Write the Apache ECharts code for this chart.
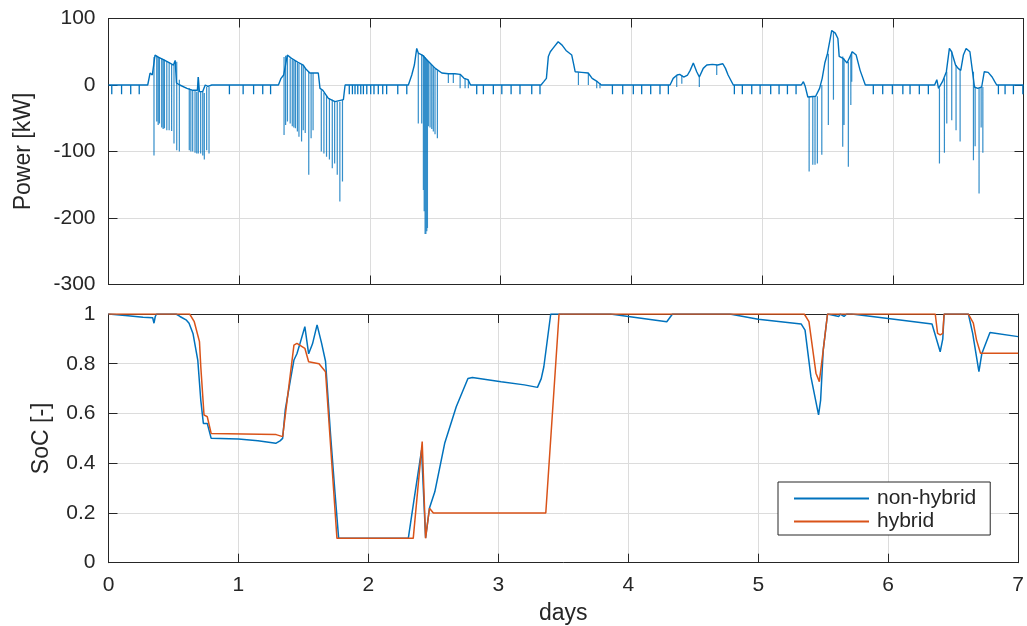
<!DOCTYPE html>
<html>
<head>
<meta charset="utf-8">
<script src="https://cdn.jsdelivr.net/npm/echarts@6/dist/echarts.min.js"></script>
<style>
  html, body { margin: 0; padding: 0; background: #ffffff; }
  #chart { width: 1027px; height: 626px; }
</style>
</head>
<body>
<div id="chart"></div>
<script>
// Battery power over one week: [day, kW] (positive = charging)
const powerTrace = [
  [0, 0], [0.30, 0], [0.318, 18], [0.335, 15], [0.356, 45], [0.38, 42], [0.42, 38], [0.46, 34],
  [0.497, 30], [0.51, 37], [0.52, 3], [0.545, 0], [0.60, -5], [0.645, -8], [0.68, -8], [0.687, 12],
  [0.695, -10], [0.72, -10], [0.74, 0], [0.76, -2], [0.79, 0],
  [1.30, 0], [1.32, 10], [1.34, 15], [1.368, 45], [1.40, 40], [1.45, 34], [1.49, 30], [1.51, 24],
  [1.54, 18], [1.605, 18], [1.618, -5], [1.64, -8], [1.682, -20], [1.733, -25], [1.797, -22], [1.81, 0],
  [2.294, 0], [2.32, 15], [2.34, 30], [2.358, 55], [2.37, 48], [2.40, 45], [2.45, 35], [2.50, 25],
  [2.55, 18], [2.60, 17], [2.65, 17], [2.69, 16], [2.72, 10], [2.75, 8], [2.77, 0],
  [3.309, 0], [3.33, 5], [3.35, 10], [3.365, 43], [3.38, 50], [3.40, 55], [3.44, 65], [3.47, 60],
  [3.50, 52], [3.544, 45], [3.56, 30], [3.57, 20], [3.62, 19], [3.67, 18], [3.70, 10], [3.74, 5], [3.77, 0],
  [4.296, 0], [4.32, 10], [4.35, 15], [4.37, 16], [4.40, 12], [4.43, 15], [4.45, 22], [4.474, 33],
  [4.50, 20], [4.52, 12], [4.55, 25], [4.577, 30], [4.62, 31], [4.66, 30], [4.70, 32], [4.72, 25],
  [4.74, 15], [4.78, 0],
  [5.30, 0], [5.316, 5], [5.33, -2], [5.35, -18], [5.41, -17], [5.44, -5], [5.46, 10], [5.48, 33],
  [5.50, 47], [5.533, 82], [5.56, 78], [5.58, 70], [5.59, 43], [5.62, 40], [5.65, 33], [5.69, 50],
  [5.72, 45], [5.75, 22], [5.79, 0],
  [6.32, 0], [6.337, 8], [6.35, -5], [6.38, 5], [6.41, 20], [6.433, 55], [6.45, 50], [6.48, 30],
  [6.50, 25], [6.52, 22], [6.54, 45], [6.561, 55], [6.59, 50], [6.61, 20], [6.625, -3], [6.65, -5],
  [6.68, -3], [6.70, 20], [6.73, 19], [6.76, 12], [6.78, 5], [6.795, 0], [7, 0]
];

// Short auxiliary-load pulses while parked: day of each pulse
const idlePulses = [
  0.025, 0.10, 0.17, 0.235,
  0.925, 1.03, 1.11, 1.18, 1.24,
  1.842, 1.866, 1.886, 1.907, 1.930, 1.950, 1.976, 2.006, 2.031, 2.064, 2.098, 2.128, 2.213, 2.282,
  2.817, 2.868, 2.944, 3.009, 3.080, 3.148, 3.238, 3.301,
  3.855, 3.934, 4.015, 4.079, 4.148, 4.219, 4.283,
  4.788, 4.849, 4.921, 4.985, 5.066, 5.130, 5.194, 5.260,
  5.851, 5.923, 5.997, 6.077, 6.132, 6.203, 6.272,
  6.808, 6.859, 6.923, 6.995
];
const idlePulseDepth = -14;

// Fast transients while driving: [day, from kW, to kW]
const powerSpikes = [
  [0.348, 42, -106], [0.369, 44, -55], [0.380, 43, -60], [0.390, 42, -58], [0.407, 40, -64],
  [0.418, 39, -66], [0.428, 38, -65], [0.446, 36, -68], [0.464, 34, -68], [0.483, 31, -69],
  [0.501, 30, -88], [0.522, 35, -98], [0.542, 8, -100], [0.618, -5, -98], [0.630, -6, -100],
  [0.644, -8, -100], [0.662, -8, -102], [0.675, -10, -103], [0.687, 12, -103], [0.705, -10, -103],
  [0.721, -10, -106], [0.733, -12, -112], [0.751, -3, -98], [0.769, -3, -103],
  [1.343, 42, -75], [1.355, 44, -60], [1.369, 44, -55], [1.390, 40, -58], [1.406, 38, -62],
  [1.418, 37, -64], [1.430, 36, -65], [1.445, 33, -70], [1.457, 32, -78], [1.477, 31, -85],
  [1.490, 30, -68], [1.505, 26, -72], [1.532, 20, -135], [1.550, 18, -80], [1.565, 18, -68],
  [1.628, -8, -100], [1.648, -12, -103], [1.668, -16, -108], [1.690, -20, -112], [1.712, -22, -125],
  [1.730, -24, -118], [1.750, -25, -135], [1.770, -25, -175], [1.790, -22, -145],
  [2.370, 48, -58], [2.396, 46, -58], [2.409, 45, -158], [2.415, 44, -190], [2.422, 42, -224],
  [2.428, 40, -224], [2.435, 38, -220], [2.440, 37, -215], [2.447, 35, -62], [2.460, 33, -64],
  [2.473, 30, -66], [2.485, 28, -70], [2.498, 25, -74], [2.516, 22, -80],
  [2.600, 17, 3], [2.638, 17, 3], [2.690, 16, -5], [2.728, 10, -5], [2.753, 8, -5],
  [3.595, 19, 0], [3.671, 18, 0], [3.735, 6, -5], [3.760, 3, -5],
  [4.347, 15, -3], [4.386, 15, 2], [4.520, 12, -3], [4.653, 30, 15],
  [5.360, -18, -130], [5.388, -18, -120], [5.405, -17, -120], [5.423, -17, -118], [5.457, 0, -105],
  [5.507, 47, -60], [5.546, 80, -22], [5.617, 43, -93], [5.627, 40, -60], [5.660, 35, -123],
  [5.679, 45, -30], [5.686, 50, 5],
  [6.357, -5, -118], [6.395, 10, -102], [6.413, 20, -58], [6.451, 50, -53], [6.484, 30, -68],
  [6.515, 22, -85], [6.617, 20, -113], [6.630, -3, -92], [6.660, -5, -163], [6.676, -4, -64],
  [6.689, -3, -102]
];

// State of charge: [day, SoC]
const socNonHybrid = [
  [0, 1.0], [0.15, 0.993], [0.266, 0.987], [0.34, 0.985], [0.35, 0.963], [0.36, 0.99], [0.37, 1.0],
  [0.52, 1.0], [0.55, 0.99], [0.60, 0.975], [0.62, 0.963], [0.65, 0.922], [0.687, 0.815], [0.71, 0.654],
  [0.73, 0.56], [0.76, 0.56], [0.79, 0.50], [1.0, 0.497], [1.15, 0.49], [1.287, 0.48], [1.32, 0.49],
  [1.34, 0.50], [1.36, 0.614], [1.40, 0.735], [1.427, 0.815], [1.45, 0.84], [1.47, 0.875], [1.511, 0.949],
  [1.54, 0.84], [1.57, 0.88], [1.605, 0.956], [1.64, 0.882], [1.67, 0.81], [1.708, 0.52], [1.74, 0.30],
  [1.771, 0.098], [2.307, 0.098], [2.35, 0.25], [2.409, 0.453], [2.44, 0.10], [2.47, 0.22], [2.511, 0.285],
  [2.587, 0.48], [2.676, 0.627], [2.766, 0.741], [2.80, 0.745], [3.021, 0.728], [3.20, 0.715],
  [3.301, 0.705], [3.33, 0.74], [3.35, 0.788], [3.403, 1.0], [3.862, 1.0], [4.0, 0.99], [4.296, 0.969],
  [4.34, 1.0], [4.78, 1.0], [5.0, 0.979], [5.33, 0.96], [5.36, 0.935], [5.405, 0.748], [5.464, 0.594],
  [5.48, 0.654], [5.5, 0.855], [5.533, 1.0], [5.62, 0.99], [5.63, 1.0], [5.66, 0.99], [5.68, 1.0],
  [5.72, 1.0], [6.03, 0.98], [6.337, 0.96], [6.40, 0.848], [6.42, 0.90], [6.43, 1.0], [6.617, 1.0],
  [6.65, 0.922], [6.698, 0.768], [6.72, 0.84], [6.783, 0.926], [7.0, 0.909]
];
const socHybrid = [
  [0, 1.0], [0.624, 1.0], [0.66, 0.969], [0.70, 0.889], [0.71, 0.79], [0.735, 0.594], [0.76, 0.587],
  [0.79, 0.52], [0.80, 0.515], [1.29, 0.515], [1.34, 0.507], [1.427, 0.875], [1.45, 0.882],
  [1.511, 0.862], [1.54, 0.808], [1.62, 0.80], [1.67, 0.768], [1.758, 0.098], [2.345, 0.098],
  [2.414, 0.487], [2.44, 0.098], [2.47, 0.219], [2.50, 0.20], [3.365, 0.20], [3.467, 1.0],
  [5.354, 1.0], [5.39, 0.969], [5.444, 0.762], [5.47, 0.728], [5.50, 0.855], [5.533, 1.0],
  [6.362, 1.0], [6.38, 0.922], [6.40, 0.916], [6.42, 0.922], [6.43, 1.0], [6.617, 1.0],
  [6.655, 0.963], [6.68, 0.895], [6.71, 0.842], [7.0, 0.842]
];

// Axis ranges and tick steps
const dayAxis = { min: 0, max: 7, interval: 1 };
const powerAxis = { min: -300, max: 100, interval: 100 };
const socAxis = { min: 0, max: 1, interval: 0.2 };

const seriesNames = ['non-hybrid', 'hybrid'];
const BLUE = '#0072BD';
const ORANGE = '#D95319';
const INK = '#262626';
const GRID = '#dcdcdc';
const FONT = '"Liberation Sans", Arial, Helvetica, sans-serif';

// Vertical strokes for pulses and transients, broken apart with gaps
function strokes(list) {
  const out = [];
  list.forEach(([t, a, b]) => { out.push([t, a], [t, b], [t, '-']); });
  return out;
}
const pulseStrokes = strokes(idlePulses.map(t => [t, 0, idlePulseDepth]));
const spikeStrokes = strokes(powerSpikes);

function xAx(gridIndex, position, labels, extra) {
  return Object.assign({
    type: 'value', gridIndex, position,
    min: dayAxis.min, max: dayAxis.max, interval: dayAxis.interval,
    axisLine: { show: true, onZero: false, lineStyle: { color: INK, width: 1 } },
    axisTick: { show: true, inside: true, length: 9, lineStyle: { color: INK } },
    axisLabel: { show: labels, color: INK, fontSize: 21, fontFamily: FONT, margin: 12 },
    splitLine: { show: position === 'bottom', lineStyle: { color: GRID, width: 1 } }
  }, extra || {});
}
function yAx(gridIndex, position, range, labels, extra) {
  return Object.assign({
    type: 'value', gridIndex, position,
    min: range.min, max: range.max, interval: range.interval,
    axisLine: { show: true, onZero: false, lineStyle: { color: INK, width: 1 } },
    axisTick: { show: true, inside: true, length: 9, lineStyle: { color: INK } },
    axisLabel: { show: labels, color: INK, fontSize: 21, fontFamily: FONT, margin: 13 },
    splitLine: { show: position === 'left', lineStyle: { color: GRID, width: 1 } }
  }, extra || {});
}

const chart = echarts.init(document.getElementById('chart'), null, { renderer: 'canvas' });
chart.setOption({
  animation: false,
  backgroundColor: '#ffffff',
  grid: [
    { left: 108.5, top: 18.5, width: 915, height: 266 },
    { left: 108.5, top: 314, width: 915, height: 248.7 }
  ],
  legend: {
    data: seriesNames,
    orient: 'vertical',
    left: 778, top: 482,
    padding: [6, 14, 3, 15],
    itemWidth: 75, itemHeight: 14, itemGap: 2,
    borderColor: INK, borderWidth: 1, backgroundColor: '#ffffff',
    itemStyle: { color: 'rgba(0,0,0,0)', borderWidth: 0, opacity: 0 },
    textStyle: { color: INK, fontSize: 21, fontFamily: FONT, padding: [0, 0, 0, 3] }
  },
  xAxis: [
    xAx(0, 'bottom', false),
    xAx(0, 'top', false),
    xAx(1, 'bottom', true, {
      name: 'days', nameLocation: 'middle', nameGap: 39,
      nameTextStyle: { color: INK, fontSize: 23, fontFamily: FONT }
    }),
    xAx(1, 'top', false)
  ],
  yAxis: [
    yAx(0, 'left', powerAxis, true, {
      name: 'Power [kW]', nameLocation: 'middle', nameGap: 73,
      nameTextStyle: { color: INK, fontSize: 23, fontFamily: FONT }
    }),
    yAx(0, 'right', powerAxis, false),
    yAx(1, 'left', socAxis, true, {
      name: 'SoC [-]', nameLocation: 'middle', nameGap: 55,
      nameTextStyle: { color: INK, fontSize: 23, fontFamily: FONT }
    }),
    yAx(1, 'right', socAxis, false)
  ],
  series: [
    {
      type: 'line', xAxisIndex: 0, yAxisIndex: 0, data: powerTrace,
      showSymbol: false, symbol: 'none', silent: true,
      lineStyle: { color: BLUE, width: 1.4 }
    },
    {
      type: 'line', xAxisIndex: 0, yAxisIndex: 0, data: pulseStrokes,
      showSymbol: false, symbol: 'none', silent: true, connectNulls: false,
      lineStyle: { color: BLUE, width: 1.3 }
    },
    {
      type: 'line', xAxisIndex: 0, yAxisIndex: 0, data: spikeStrokes,
      showSymbol: false, symbol: 'none', silent: true, connectNulls: false,
      lineStyle: { color: BLUE, width: 1.2, opacity: 0.8 }
    },
    {
      name: seriesNames[0], type: 'line', xAxisIndex: 2, yAxisIndex: 2, data: socNonHybrid,
      showSymbol: false, symbol: 'none', color: BLUE,
      lineStyle: { color: BLUE, width: 1.5 }
    },
    {
      name: seriesNames[1], type: 'line', xAxisIndex: 2, yAxisIndex: 2, data: socHybrid,
      showSymbol: false, symbol: 'none', color: ORANGE,
      lineStyle: { color: ORANGE, width: 1.5 }
    }
  ]
});
</script>
</body>
</html>
